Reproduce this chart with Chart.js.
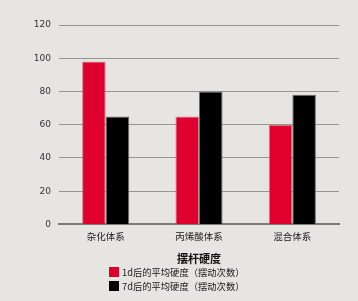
<!DOCTYPE html>
<html>
<head>
<meta charset="utf-8">
<script src="https://cdn.jsdelivr.net/npm/chart.js@4/dist/chart.umd.min.js"></script>
<style>
  html, body { margin: 0; padding: 0; background: #e6e5e1; }
  #wrap { position: relative; width: 358px; height: 301px; }
  #legend { position: absolute; left: 109px; top: 265px; font-family: "Noto Sans CJK SC", sans-serif; font-size: 9.3px; color: #1a1a1a; }
  #legend div { height: 14px; line-height: 14px; white-space: nowrap; }
  #legend span.box { display: inline-block; width: 10px; height: 10px; vertical-align: -1px; margin-right: 3px; }
</style>
</head>
<body>
<div id="wrap">
  <canvas id="chart" width="358" height="301"></canvas>
  <div id="legend"></div>
</div>
<script>
const categories = ['杂化体系', '丙烯酸体系', '混合体系'];
const seriesNames = ['1d后的平均硬度（摆动次数）', '7d后的平均硬度（摆动次数）'];
const day1 = [98, 65, 60];
const day7 = [65, 80, 78];
const yTicks = [0, 20, 40, 60, 80, 100, 120];
const axisTitle = '摆杆硬度';

const colors = ['#e0002d', '#000000'];

const ctx = document.getElementById('chart').getContext('2d');
const chart = new Chart(ctx, {
    type: 'bar',
    data: {
        labels: categories,
        datasets: [
            { label: seriesNames[0], data: day1, backgroundColor: colors[0], borderColor: 'rgba(200,120,130,0.9)', borderWidth: 1 },
            { label: seriesNames[1], data: day7, backgroundColor: colors[1], borderColor: 'rgba(110,110,105,1)', borderWidth: 1 }
        ]
    },
    options: {
        responsive: false,
        animation: false,
        layout: { padding: { top: 25, right: 19, bottom: 36, left: 0 } },
        plugins: {
            legend: { display: false },
            tooltip: { enabled: false }
        },
        datasets: {
            bar: { categoryPercentage: 0.505, barPercentage: 1.0 }
        },
        scales: {
            x: {
                grid: { display: false, drawTicks: false },
                border: { display: true, color: '#7a7a74', width: 2 },
                ticks: { padding: 6, color: '#1a1a1a', font: { family: '"Noto Sans CJK SC"', size: 9.5 } },
                title: { display: true, text: axisTitle, color: '#111', padding: { top: 4, bottom: 0 },
                         font: { family: '"Noto Sans CJK SC"', size: 11, weight: 'bold' } }
            },
            y: {
                min: 0,
                max: 120,
                afterBuildTicks: scale => { scale.ticks = yTicks.map(v => ({ value: v })); },
                afterFit: scale => { scale.width = 59; },
                grid: { color: '#96968e', lineWidth: 1, drawTicks: false },
                border: { display: false },
                ticks: { padding: 8, color: '#333', font: { family: 'DejaVu Sans', size: 9 } }
            }
        }
    }
});

// legend built from the datasets, stacked one per line
const legendEl = document.getElementById('legend');
chart.data.datasets.forEach(function(ds) {
    const row = document.createElement('div');
    const box = document.createElement('span');
    box.className = 'box';
    box.style.background = ds.backgroundColor;
    row.appendChild(box);
    row.appendChild(document.createTextNode(ds.label));
    legendEl.appendChild(row);
});
</script>
</body>
</html>
